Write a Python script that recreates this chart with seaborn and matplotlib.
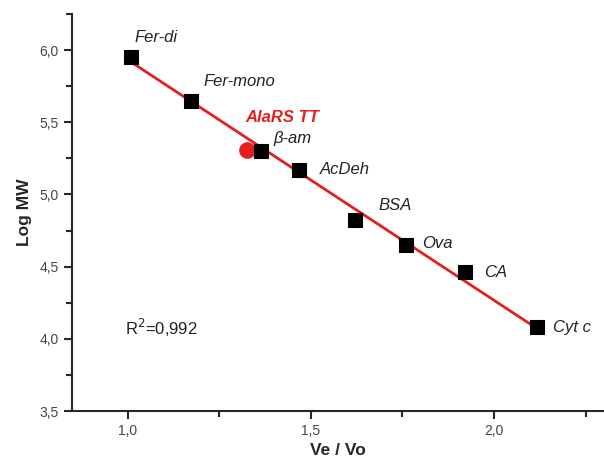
import numpy as np
import pandas as pd
import matplotlib
matplotlib.use("Agg")
import matplotlib.pyplot as plt
import seaborn as sns
from matplotlib.ticker import MultipleLocator, FuncFormatter

# standards (Ve/Vo, log MW)
proteins = ['Fer-di', 'Fer-mono', '\u03b2-am', 'AcDeh', 'BSA', 'Ova', 'CA', 'Cyt c']
ve_vo = [1.01, 1.174, 1.364, 1.467, 1.62, 1.76, 1.92, 2.117]
log_mw = [5.95, 5.65, 5.30, 5.17, 4.82, 4.65, 4.46, 4.08]

# sample
sample_name = 'AlaRS TT'
sample_x = [1.326]
sample_y = [5.31]

df = pd.DataFrame({'protein': proteins, 've_vo': ve_vo, 'log_mw': log_mw})

sns.set_style("ticks")
plt.rcParams['font.family'] = ['Liberation Sans', 'DejaVu Sans']

fig = plt.figure(figsize=(6.04, 4.63), dpi=100)
ax = fig.add_axes([0.119, 0.112, 0.881, 0.858])

sns.regplot(data=df, x='ve_vo', y='log_mw', ax=ax, scatter=False, ci=None,
            line_kws={'color': '#e41f1f', 'lw': 2})
ax.scatter(sample_x, sample_y, s=120, color='#e41f1f', zorder=3)
sns.scatterplot(data=df, x='ve_vo', y='log_mw', ax=ax, marker='s', s=95,
                color='black', edgecolor='black', zorder=4)

# label offsets in points (dx, dy)
offsets = {'Fer-di': (2, 14), 'Fer-mono': (9, 14), '\u03b2-am': (9, 9),
           'AcDeh': (15, 0), 'BSA': (17, 11), 'Ova': (11.5, 1),
           'CA': (14, 0), 'Cyt c': (11.5, 0)}
for p, x, y in zip(proteins, ve_vo, log_mw):
    dx, dy = offsets[p]
    ax.annotate(p, (x, y), xytext=(dx, dy), textcoords='offset points',
                fontsize=12, style='italic', color='#222222', va='center')
ax.annotate(sample_name, (sample_x[0], sample_y[0]), xytext=(-1, 23),
            textcoords='offset points', fontsize=12, style='italic',
            fontweight='bold', color='#e41f1f', va='center')

ax.text(0.992, 4.076, 'R$^2$=0,992', fontsize=12, color='#222222', va='center')

ax.set_xlim(0.848, 2.3)
ax.set_ylim(3.5, 6.25)
ax.xaxis.set_major_locator(MultipleLocator(0.5))
ax.xaxis.set_minor_locator(MultipleLocator(0.25))
ax.yaxis.set_major_locator(MultipleLocator(0.5))
ax.yaxis.set_minor_locator(MultipleLocator(0.25))
comma = FuncFormatter(lambda v, pos: f"{v:.1f}".replace('.', ','))
ax.xaxis.set_major_formatter(comma)
ax.yaxis.set_major_formatter(comma)
ax.tick_params(which='major', length=6, width=1.5, labelsize=10,
               labelcolor='#444444', direction='out')
ax.tick_params(which='minor', length=4, width=1.5, direction='out')

ax.set_xlabel('Ve / Vo', fontsize=12.5, fontweight='bold', labelpad=3)
ax.set_ylabel('Log MW', fontsize=12.5, fontweight='bold', labelpad=5)
sns.despine(ax=ax)
for s in ['left', 'bottom']:
    ax.spines[s].set_linewidth(1.5)

fig.savefig('out.png', dpi=100)
